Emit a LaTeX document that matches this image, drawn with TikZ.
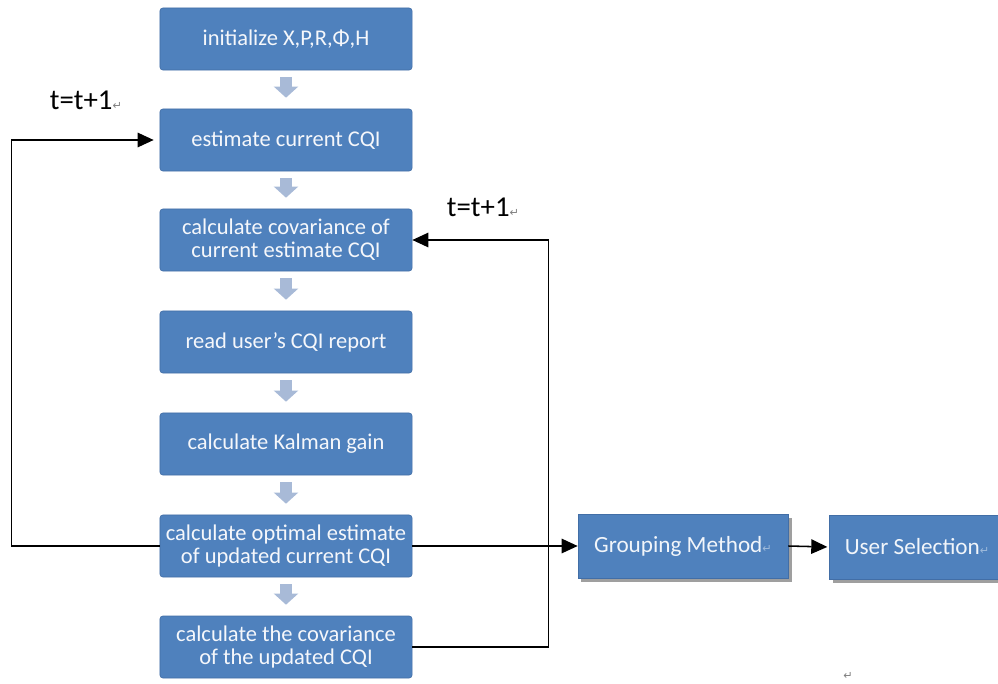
\documentclass[tikz,border=0pt]{standalone}
\usepackage{fontspec}
\setmainfont{Carlito}
\newfontfamily\dejavu{DejaVu Sans}
\usetikzlibrary{arrows.meta,shadows}
\definecolor{boxblue}{RGB}{79,129,189}
\definecolor{boxedge}{RGB}{66,110,166}
\definecolor{blkarr}{RGB}{168,186,215}
\newcommand\crmark{{\dejavu\fontsize{8}{8}\selectfont\color{gray}↵}}
\newcommand\crmarkin{{\dejavu\fontsize{8}{8}\selectfont\color{white!45!boxblue}↵}}

\begin{document}
\begin{tikzpicture}[x=0.025cm, y=-0.025cm,
  box/.style={draw=boxedge, fill=boxblue, rounded corners=2pt, text=white!94!boxblue, minimum width=6.3cm, minimum height=1.55cm, align=center, inner sep=1pt, font=\fontsize{16}{16.5}\selectfont},
  sbox/.style={draw=boxedge, fill=boxblue, text=white!92!boxblue, minimum height=1.6cm, inner sep=1pt, font=\fontsize{16.5}{20}\selectfont, drop shadow={shadow xshift=2.5pt, shadow yshift=-3pt, fill=gray!75, opacity=1}},
  blk/.style={draw=blkarr, line width=0.3cm, -{Triangle[width=0.6cm,length=0.28cm]}, shorten <=0.175cm, shorten >=0.275cm},
  arr/.style={line width=1.1pt, -{Triangle[length=0.4cm,width=0.36cm]}},
  lbl/.style={inner sep=1pt, font=\fontsize{20.5}{22}\selectfont}]
\useasboundingbox (0,0) rectangle (998,683);
\foreach \n/\y/\t in {init/39/{initialize X,P,R,Φ,H}, est/140/{estimate current CQI}, cov/240/{calculate covariance of\\current estimate CQI}, read/342/{read user's CQI report}, gain/444/{calculate Kalman gain}, opt/546/{calculate optimal estimate\\of updated current CQI}, upd/647/{calculate the covariance\\of the updated CQI}}{\node[box] (\n) at (286,\y) {\t};}
\foreach \a/\b in {init/est, est/cov, cov/read, read/gain, gain/opt, opt/upd}{\draw[blk] (\a) -- (\b);}
\node[sbox, minimum width=5.25cm] (group) at (683,546) {Grouping Method\crmarkin};
\node[sbox, minimum width=4.4cm] (usel) at (917,547) {User Selection\crmarkin};
% loops back to the estimate
\draw[arr, shorten >=0.15cm] (opt.west) -- ++(-148,0) |- (est.west);
\draw[arr] (upd.east) -- ++(136,0) |- (cov.east);
\draw[arr] (opt.east) -- (group.west);
\draw[arr, shorten >=1pt] (group.east) -- (usel.west);
\node[lbl] (tl) at (86,100) {t=t+1\crmark};
\node[lbl] (tr) at (483,207) {t=t+1\crmark};
\node (endmark) at (848,676) {\crmark};
\end{tikzpicture}
\end{document}
